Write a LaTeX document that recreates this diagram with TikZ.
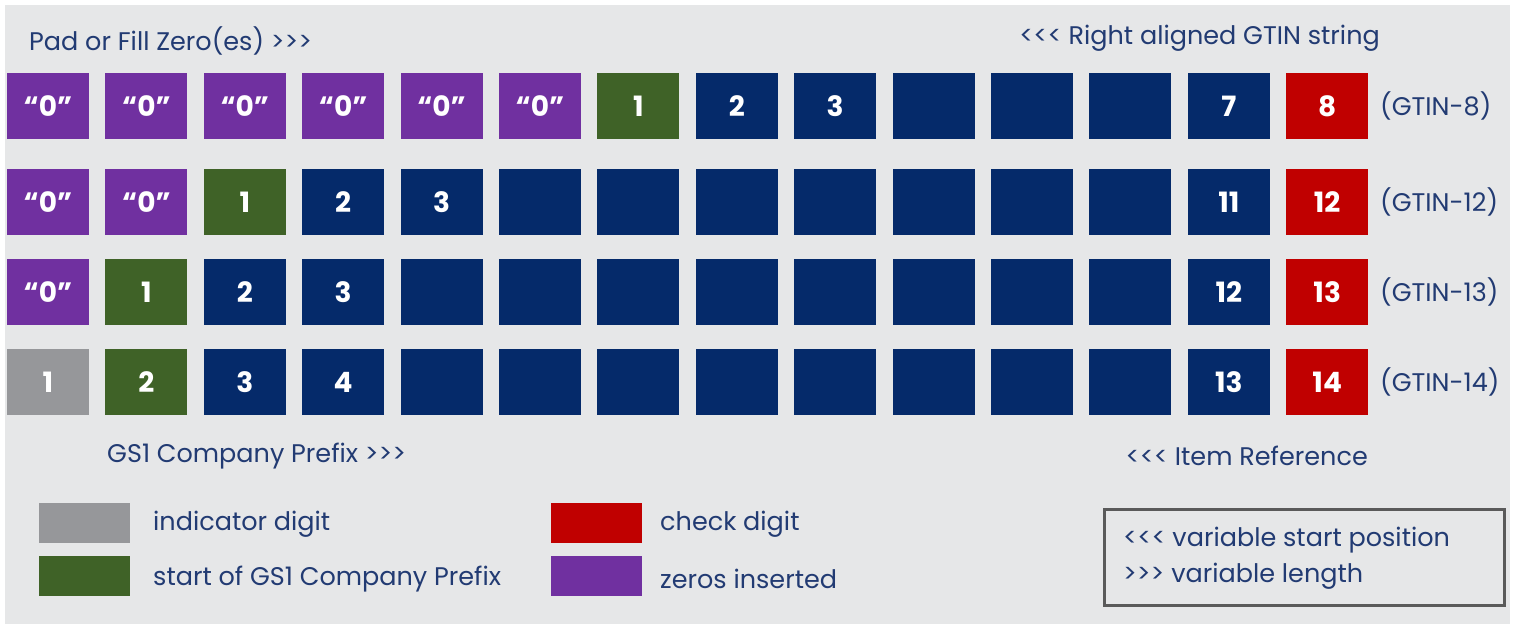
\documentclass[tikz,border=0pt]{standalone}
\usepackage{fontspec}
\setmainfont{Poppins}[Ligatures=TeXOff]
\definecolor{bg}{HTML}{E6E7E8}
\definecolor{purp}{HTML}{7030A0}
\definecolor{grn}{HTML}{3F6227}
\definecolor{navy}{HTML}{052A6A}
\definecolor{red}{HTML}{C00000}
\definecolor{gry}{HTML}{96979A}
\definecolor{txt}{HTML}{223B73}
\definecolor{frame}{HTML}{5A5A5A}
\tikzset{
  cell/.style={minimum width=82pt, minimum height=66pt, inner sep=0pt, text=white,
    font=\fontsize{28}{30}\selectfont\bfseries},
  lbl/.style={inner sep=0pt, text=txt, font=\fontsize{25.5}{28}\selectfont},
  swatch/.style={minimum width=91pt, minimum height=40pt, inner sep=0pt, anchor=north west},
}
\begin{document}
\begin{tikzpicture}[x=1pt,y=-1pt]
\useasboundingbox (0,0) rectangle (1515,624);
\fill[bg] (5,5) rectangle (1510,624);
% titles
\node[lbl, anchor=west] (padfill) at (29,41) {Pad or Fill Zero(es) >>>};
\node[lbl, anchor=east] (rightal) at (1380,38) {<<< Right aligned GTIN string};
% row 1
\foreach \c/\f/\t in {1/purp/“0”,2/purp/“0”,3/purp/“0”,4/purp/“0”,5/purp/“0”,6/purp/“0”,7/grn/1,8/navy/2,9/navy/3,10/navy/,11/navy/,12/navy/,13/navy/7,14/red/8}
  \node[cell, fill=\f] (r1c\c) at ({48+98.4*(\c-1)},106) {\t};
% row 2
\foreach \c/\f/\t in {1/purp/“0”,2/purp/“0”,3/grn/1,4/navy/2,5/navy/3,6/navy/,7/navy/,8/navy/,9/navy/,10/navy/,11/navy/,12/navy/,13/navy/11,14/red/12}
  \node[cell, fill=\f] (r2c\c) at ({48+98.4*(\c-1)},202) {\t};
% row 3
\foreach \c/\f/\t in {1/purp/“0”,2/grn/1,3/navy/2,4/navy/3,5/navy/,6/navy/,7/navy/,8/navy/,9/navy/,10/navy/,11/navy/,12/navy/,13/navy/12,14/red/13}
  \node[cell, fill=\f] (r3c\c) at ({48+98.4*(\c-1)},292) {\t};
% row 4
\foreach \c/\f/\t in {1/gry/1,2/grn/2,3/navy/3,4/navy/4,5/navy/,6/navy/,7/navy/,8/navy/,9/navy/,10/navy/,11/navy/,12/navy/,13/navy/13,14/red/14}
  \node[cell, fill=\f] (r4c\c) at ({48+98.4*(\c-1)},382) {\t};
% row labels
\node[lbl, anchor=west] (g8) at (1380,106) {(GTIN-8)};
\node[lbl, anchor=west] (g12) at (1380,202) {(GTIN-12)};
\node[lbl, anchor=west] (g13) at (1380,292) {(GTIN-13)};
\node[lbl, anchor=west] (g14) at (1380,382) {(GTIN-14)};
% bottom labels
\node[lbl, anchor=west] (gcp) at (107,456) {GS1 Company Prefix >>>};
\node[lbl, anchor=east] (itemref) at (1368,456) {<<< Item Reference};
% legend
\node[swatch, fill=gry] (sw1) at (39,503) {};
\node[swatch, fill=grn] (sw2) at (39,556) {};
\node[swatch, fill=red] (sw3) at (551,503) {};
\node[swatch, fill=purp] (sw4) at (551,556) {};
\node[lbl, anchor=west] (l1) at (153,524) {indicator digit};
\node[lbl, anchor=west] (l2) at (153,579) {start of GS1 Company Prefix};
\node[lbl, anchor=west] (l3) at (660,524) {check digit};
\node[lbl, anchor=west] (l4) at (660,579) {zeros inserted};
\node[draw=frame, line width=2.5pt, minimum width=400pt, minimum height=96pt, anchor=north west, inner sep=0pt] (keybox) at (1103,508) {};
\node[lbl, anchor=west] (k1) at (1123,540) {<<< variable start position};
\node[lbl, anchor=west] (k2) at (1123,576) {>>> variable length};
\end{tikzpicture}
\end{document}
